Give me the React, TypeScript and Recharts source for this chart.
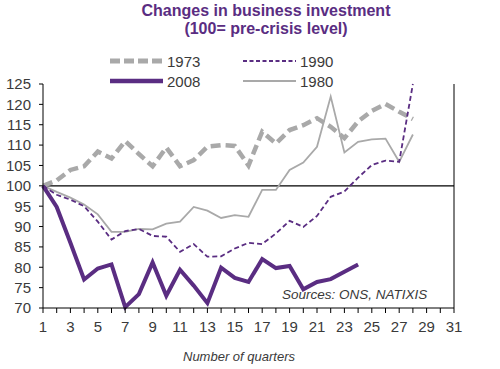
import React from 'react';
import { LineChart, Line, XAxis, YAxis, ReferenceLine } from 'recharts';

// quarters since the pre-crisis peak (quarter 1 = 100)
const quarters = [1, 2, 3, 4, 5, 6, 7, 8, 9, 10, 11, 12, 13, 14, 15, 16, 17, 18, 19, 20, 21, 22, 23, 24, 25, 26, 27, 28];

const s1973 = [100, 101.3, 103.9, 104.8, 108.4, 106.7, 111, 107.8, 104.8, 109.4, 104.8, 106.3, 109.6, 110, 109.8, 105, 113.3, 110.4, 113.7, 114.9, 116.6, 114.5, 111.7, 115.8, 118.4, 120.1, 118.2, 116.4];
const s1990 = [100, 97.8, 96.6, 95, 91.2, 86.8, 88.9, 89.4, 87.7, 87.5, 83.8, 85.7, 82.6, 82.7, 84.6, 86, 85.7, 88.3, 91.4, 89.9, 92.6, 97.3, 98.6, 102, 105.1, 106.2, 105.9, 125];
const s2008 = [100, 94.8, 86, 77, 79.7, 80.7, 70.2, 73.4, 81.2, 73, 79.4, 75.5, 71.2, 79.9, 77.4, 76.4, 82, 79.8, 80.3, 74.6, 76.4, 77.1, 78.9, 80.7];
const s1980 = [100, 98.5, 97.1, 95.4, 93, 88.7, 88.7, 89.4, 89.3, 90.7, 91.2, 94.8, 93.9, 92.1, 92.8, 92.4, 99, 99, 103.9, 105.7, 109.6, 121.9, 108.2, 110.8, 111.4, 111.6, 105.9, 112.6];

const xTicks = Array.from({ length: 31 }, (_, i) => i + 1);
const yTicks = [70, 75, 80, 85, 90, 95, 100, 105, 110, 115, 120, 125];

const data = quarters.map((q, i) => ({
    q,
    y1973: s1973[i],
    y1990: s1990[i],
    y2008: s2008[i],
    y1980: s1980[i],
}));

const PURPLE = '#5a2d82';
const GREY = '#a9a9a9';
const FONT = '"Liberation Sans", Arial, sans-serif';

const tickStyle = { fill: '#3a3a3a', fontSize: 15, fontFamily: FONT };

const LegendItem = ({ x, y, label, stroke, width, dash }: any) => (
    <div style={{ position: 'absolute', left: x, top: y - 10, height: 20, display: 'flex', alignItems: 'center' }}>
        <svg width={55} height={20}>
            <line x1={0} y1={10} x2={53} y2={10} stroke={stroke} strokeWidth={width} strokeDasharray={dash} />
        </svg>
        <span style={{ fontFamily: FONT, fontSize: 15, color: '#3a3a3a', marginLeft: 2 }}>{label}</span>
    </div>
);

export default function App() {
    return (
        <div style={{ position: 'absolute', left: 0, top: 0, width: 500, height: 369, background: '#fff' }}>
            <div style={{ position: 'absolute', left: 0, top: 2, width: 532, textAlign: 'center', fontFamily: FONT, fontWeight: 'bold', fontSize: 16, lineHeight: '18px', color: PURPLE }}>
                Changes in business investment<br />(100= pre-crisis level)
            </div>

            <LegendItem x={110} y={61} label="1973" stroke={GREY} width={5} dash="10 4" />
            <LegendItem x={243} y={61} label="1990" stroke={PURPLE} width={1.8} dash="4 2.5" />
            <LegendItem x={110} y={81} label="2008" stroke={PURPLE} width={4.5} />
            <LegendItem x={243} y={81} label="1980" stroke={GREY} width={1.8} />

            <LineChart width={500} height={369} data={data} margin={{ top: 84, right: 0, left: 0, bottom: 31 }}>
                <XAxis
                    dataKey="q"
                    type="number"
                    domain={[1, 31]}
                    ticks={xTicks}
                    interval={0}
                    tickFormatter={(v: number) => (v % 2 === 1 ? String(v) : '')}
                    height={30}
                    tickSize={5}
                    tickMargin={8}
                    stroke="#000"
                    tick={tickStyle}
                />
                <YAxis yAxisId="left" domain={[70, 125]} ticks={yTicks} width={43} tickSize={4} tickMargin={8} stroke="#000" tick={tickStyle} interval={0} />
                <YAxis yAxisId="right" orientation="right" domain={[70, 125]} ticks={yTicks} width={46} tickSize={4} tickMargin={9} stroke="#000" axisLine={{ stroke: '#000' }} tick={{ ...tickStyle, textAnchor: 'start' }} interval={0} />
                <ReferenceLine yAxisId="left" y={100} stroke="#000" strokeWidth={1.2} />
                <Line yAxisId="left" dataKey="y1973" stroke={GREY} strokeWidth={4.5} strokeDasharray="10 5" dot={false} isAnimationActive={false} />
                <Line yAxisId="left" dataKey="y1980" stroke={GREY} strokeWidth={1.8} dot={false} isAnimationActive={false} />
                <Line yAxisId="left" dataKey="y1990" stroke={PURPLE} strokeWidth={1.8} strokeDasharray="5 3" dot={false} isAnimationActive={false} />
                <Line yAxisId="left" dataKey="y2008" stroke={PURPLE} strokeWidth={4} dot={false} isAnimationActive={false} />
            </LineChart>

            <div style={{ position: 'absolute', left: 282, top: 287, fontFamily: FONT, fontStyle: 'italic', fontSize: 13.5, color: '#3a3a3a', whiteSpace: 'nowrap' }}>
                Sources: ONS, NATIXIS
            </div>
            <div style={{ position: 'absolute', left: 0, top: 349, width: 478, textAlign: 'center', fontFamily: FONT, fontStyle: 'italic', fontSize: 13, color: '#3a3a3a' }}>
                Number of quarters
            </div>
        </div>
    );
}
